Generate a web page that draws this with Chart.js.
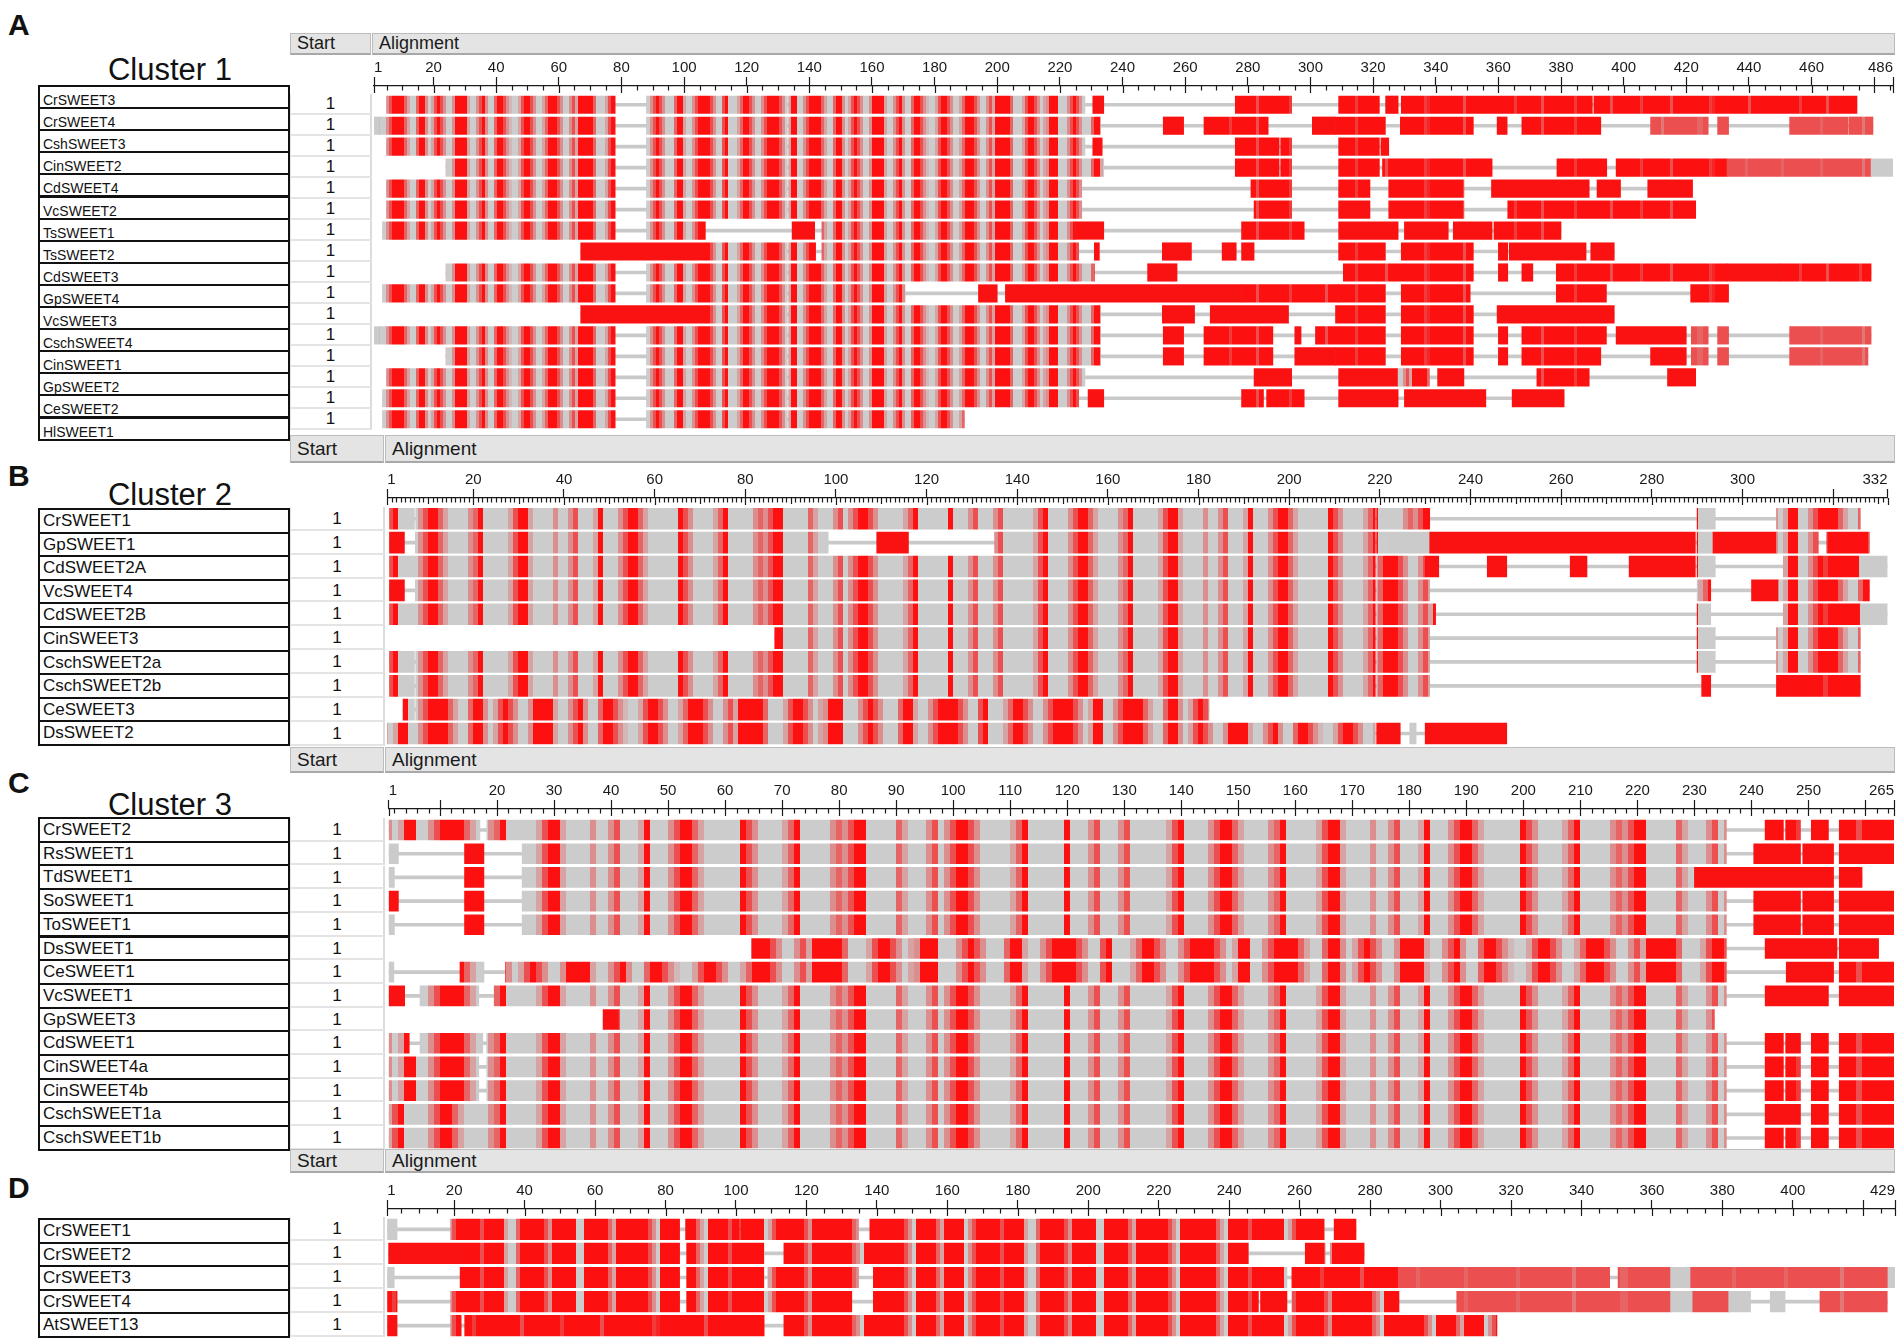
<!DOCTYPE html>
<html>
<head>
<meta charset="utf-8">
<title>SWEET alignment clusters</title>
<script src="https://cdn.jsdelivr.net/npm/chart.js@4.4.1/dist/chart.umd.min.js"></script>
<style>
  body { margin: 0; width: 1904px; height: 1342px; position: relative; overflow: hidden;
         background: #fff; color: #111; font-family: "Liberation Sans", Arial, sans-serif; }
  .abs { position: absolute; box-sizing: border-box; white-space: nowrap; }
  .letter { font-weight: bold; font-size: 30px; line-height: 30px; }
  .title { font-size: 31px; line-height: 31px; width: 252px; text-align: center; }
  .hdr { background: #e4e4e4; border: 1px solid #bcbcbc; border-bottom: 2px solid #a8a8a8; padding-left: 6px; color: #1a1a1a; }
  .name { border: 2px solid #111; padding-left: 3px; overflow: hidden; }
  .start { border-bottom: 2px solid #e4e4e4; border-right: 2px solid #dcdcdc; border-left: 1px solid #e4e4e4; text-align: center; font-size: 17px; }
  canvas { position: absolute; }
</style>
</head>
<body>
<script>
// ---- data: names, start positions, aligned blocks [from, to, kind], ruler ticks ----
// kind: m = mixed red/grey, l = mostly grey, d = red-dominant mix, r = mostly red, R = solid red, p = pale red, g = grey
const namesA = ["CrSWEET3", "CrSWEET4", "CshSWEET3", "CinSWEET2", "CdSWEET4", "VcSWEET2", "TsSWEET1", "TsSWEET2",
                "CdSWEET3", "GpSWEET4", "VcSWEET3", "CschSWEET4", "CinSWEET1", "GpSWEET2", "CeSWEET2", "HlSWEET1"];
const startA = [1, 1, 1, 1, 1, 1, 1, 1, 1, 1, 1, 1, 1, 1, 1, 1];
const blocksA = [
  [[5,78,'m'],[88,133,'m'],[133.4,228,'m'],[230.5,234,'R'],[276,294,'r'],[309,322,'r'],[324,328,'R'],[329,390,'r'],[390.5,474.5,'r']],
  [[1,3,'g'],[3,78,'m'],[88,133,'m'],[133.4,233,'m'],[253,259.5,'R'],[266,286.5,'r'],[300.6,308,'R'],[308,324,'r'],[328.7,352,'r'],[359.6,362.8,'R'],[367.5,392.7,'r'],[408.6,427,'p'],[430,433.5,'p'],[453,471.7,'p'],[472,479.6,'p']],
  [[5,78,'m'],[88,133,'m'],[133.4,228,'m'],[230.5,233.5,'R'],[276,290,'r'],[290.5,294,'r'],[309,322,'r'],[322.5,325,'R']],
  [[24,78,'m'],[88,133,'m'],[133.4,234,'m'],[276,290,'r'],[290.5,294,'r'],[309,322,'r'],[323,358,'r'],[378.7,394.6,'r'],[397.6,433,'r'],[433,479,'p'],[479,486,'g']],
  [[5,78,'m'],[88,133,'m'],[133.4,227,'m'],[281,294,'r'],[309,319,'r'],[325,349,'r'],[357.8,389,'R'],[391.5,399,'R'],[407.7,422,'R']],
  [[5,78,'m'],[88,133,'m'],[133.4,227,'m'],[282,294,'r'],[309,319,'R'],[325,349,'r'],[363,423,'r']],
  [[3.7,78,'m'],[88,106.8,'m'],[134.5,141.7,'R'],[144,225,'m'],[225,234,'R'],[278,298,'r'],[309,328,'R'],[330,344,'R'],[345.6,358,'R'],[358.6,380,'r']],
  [[67,107,'R'],[107,133,'m'],[133.4,142,'m'],[144,226,'m'],[231,232.6,'R'],[252.7,262,'R'],[271.8,276.3,'R'],[278,282,'R'],[309,324,'r'],[329,352,'r'],[360,363,'R'],[363.5,388,'R'],[389.5,397,'R']],
  [[24,78,'m'],[88,133,'m'],[133.4,231,'m'],[248,257.4,'R'],[310.5,352,'r'],[360,363,'R'],[367.5,371,'R'],[378.5,433,'r'],[433,450,'R'],[450,479,'r']],
  [[3.7,78,'m'],[88,133,'m'],[133.4,170.6,'m'],[194,200,'R'],[202.6,278,'R'],[278,309,'r'],[309,324,'r'],[329,351,'r'],[378.5,394.5,'r'],[421.4,433.5,'r']],
  [[67,107,'R'],[107,133,'m'],[133.4,233,'m'],[252.7,263,'R'],[268,293,'R'],[308,324,'r'],[329,352,'r'],[359.6,397,'R']],
  [[1,3,'g'],[3,78,'m'],[88,133,'m'],[133.4,233,'m'],[253,259.5,'R'],[266,288,'r'],[295,297,'R'],[301.6,324,'r'],[329,352,'r'],[360,363,'R'],[367.5,394.5,'r'],[397.6,420,'R'],[421.6,427,'p'],[430,433.5,'p'],[453,479,'p']],
  [[24,78,'m'],[88,133,'m'],[133.4,233,'m'],[253,259.5,'R'],[266,288,'r'],[295,308,'R'],[308,324,'r'],[329,352,'r'],[360,363,'R'],[367.5,392.7,'r'],[408.6,420,'R'],[421.6,427,'p'],[430,433.5,'p'],[453,478,'p']],
  [[5,78,'m'],[88,133,'m'],[133.4,228,'m'],[282,294,'R'],[309,328,'R'],[328,338,'m'],[340.6,349,'R'],[372.3,389,'r'],[414,423,'R']],
  [[3.7,78,'m'],[88,133,'m'],[133.4,226,'m'],[229,234,'R'],[278,285,'r'],[286,298,'r'],[309,328,'R'],[330,356,'R'],[364.4,381,'R']],
  [[3.7,78,'m'],[88,133,'m'],[133.4,189.5,'m']]
];
const ticksA = [1,20,40,60,80,100,120,140,160,180,200,220,240,260,280,300,320,340,360,380,400,420,440,460,480,486];
const labelsA = [1,20,40,60,80,100,120,140,160,180,200,220,240,260,280,300,320,340,360,380,400,420,440,460,486];

const namesB = ["CrSWEET1", "GpSWEET1", "CdSWEET2A", "VcSWEET4", "CdSWEET2B", "CinSWEET3", "CschSWEET2a", "CschSWEET2b", "CeSWEET3", "DsSWEET2"];
const startB = [1, 1, 1, 1, 1, 1, 1, 1, 1, 1];
const blocksB = [
  [[1.5,7,'l'],[7.3,219,'l'],[219.3,231,'l'],[290,294,'l'],[307.5,326,'m']],
  [[1.5,4.8,'R'],[7.2,98.3,'l'],[109,116,'R'],[135,219,'l'],[219.3,222,'l'],[222,231,'g'],[231,289.6,'R'],[290,293.5,'l'],[293.5,307.5,'R'],[307.5,316.7,'m'],[318.6,328,'r']],
  [[1.5,219,'l'],[219.3,230,'m'],[230,233,'R'],[243.7,248,'R'],[262,265.7,'R'],[275,289.6,'R'],[290,294,'l'],[309,316.7,'m'],[316.7,325.8,'r'],[325.8,332,'g']],
  [[1.5,4.8,'R'],[7.2,219,'l'],[219.3,231,'m'],[290,293,'m'],[302,308,'R'],[308,328,'m']],
  [[1.5,219,'l'],[219.3,232.3,'m'],[290,293,'l'],[309,317,'m'],[317,326,'r'],[326,332,'g']],
  [[86.5,219,'l'],[219.3,231,'m'],[290,294,'l'],[307.5,326,'m']],
  [[1.5,7,'l'],[7.3,219,'l'],[219.3,231,'m'],[290,294,'l'],[307.5,326,'m']],
  [[1.5,7,'l'],[7.3,219,'l'],[219.3,231,'m'],[291,293,'R'],[307.5,326,'r']],
  [[4.5,7,'m'],[7.3,182.3,'m']],
  [[1,219,'m'],[219.3,224.5,'R'],[226.6,228,'g'],[230,248,'R']]
];
const ticksB = [1,20,40,60,80,100,120,140,160,180,200,220,240,260,280,300,320,332];
const labelsB = [1,20,40,60,80,100,120,140,160,180,200,220,240,260,280,300,332];

const namesC = ["CrSWEET2", "RsSWEET1", "TdSWEET1", "SoSWEET1", "ToSWEET1", "DsSWEET1", "CeSWEET1", "VcSWEET1",
                "GpSWEET3", "CdSWEET1", "CinSWEET4a", "CinSWEET4b", "CschSWEET1a", "CschSWEET1b"];
const startC = [1, 1, 1, 1, 1, 1, 1, 1, 1, 1, 1, 1, 1, 1];
const blocksC = [
  [[1,17,'m'],[18.2,235.6,'l'],[242.4,245.6,'r'],[246,248.6,'r'],[250.5,253.5,'r'],[255.4,265,'r']],
  [[1,2.7,'g'],[14.3,17.7,'R'],[24.4,235.6,'l'],[240.4,248.6,'R'],[249,254.4,'R'],[255.4,265,'R']],
  [[1,2,'g'],[14.3,17.7,'r'],[24.4,230,'l'],[230,254.4,'R'],[255.4,259.4,'R']],
  [[1,2.7,'R'],[14.3,17.7,'r'],[24.4,235.6,'l'],[240.4,248.6,'R'],[249,254.4,'R'],[255.4,265,'R']],
  [[1,2,'g'],[14.3,17.7,'r'],[24.4,235.6,'l'],[240.4,248.6,'R'],[249,254.4,'R'],[255.4,265,'R']],
  [[64.6,235.6,'m'],[242.4,255,'R'],[255.4,262.3,'R']],
  [[1,1.9,'g'],[13.5,17.7,'m'],[21.5,235.6,'m'],[246.1,254.4,'R'],[255.4,265,'r']],
  [[1,3.8,'R'],[6.5,16.8,'m'],[19.5,235.6,'l'],[242.4,253.5,'R'],[255.4,265,'R']],
  [[38.6,41.4,'R'],[41.4,233.5,'l']],
  [[1,4.6,'m'],[6.5,17.5,'m'],[18.2,235.6,'l'],[242.4,245.6,'r'],[246,248.6,'R'],[250.5,253.5,'r'],[255.4,265,'r']],
  [[1,16.8,'m'],[18.2,235.6,'l'],[242.4,245.6,'r'],[246,248.6,'r'],[250.5,253.5,'r'],[255.4,265,'r']],
  [[1,16.8,'m'],[18.2,235.6,'l'],[242.4,245.6,'r'],[246,248.6,'r'],[250.5,253.5,'r'],[255.4,265,'r']],
  [[1,235.6,'l'],[242.4,248.6,'R'],[250.5,253.5,'r'],[255.4,265,'r']],
  [[1,235.6,'l'],[242.4,245.6,'r'],[246,248.6,'r'],[250.5,253.5,'r'],[255.4,265,'r']]
];
const ticksC = [1,10,20,30,40,50,60,70,80,90,100,110,120,130,140,150,160,170,180,190,200,210,220,230,240,250,260,265];
const labelsC = [1,20,30,40,50,60,70,80,90,100,110,120,130,140,150,160,170,180,190,200,210,220,230,240,250,265];

const namesD = ["CrSWEET1", "CrSWEET2", "CrSWEET3", "CrSWEET4", "AtSWEET13"];
const startD = [1, 1, 1, 1, 1];
const blocksD = [
  [[1,3.8,'g'],[19,84,'d'],[85.7,101,'d'],[101.3,134.8,'d'],[138,267,'d'],[269.8,276,'d']],
  [[1.4,22.8,'R'],[22.8,84,'d'],[86,108,'d'],[113.6,245.5,'d'],[261.6,267.2,'d'],[268.7,278.3,'d']],
  [[1,3,'g'],[21.7,84,'d'],[86,108,'d'],[109,134.8,'d'],[139,256.4,'d'],[257.8,288,'r'],[288,348,'p'],[350.4,365.3,'p'],[365.3,371,'g'],[371,427,'p'],[427,429,'g']],
  [[1,3.8,'r'],[19,84,'d'],[86,132.9,'d'],[139,248.3,'d'],[248.9,256.4,'R'],[257.8,288.2,'d'],[304.6,365.3,'p'],[365.3,371.6,'g'],[371.6,381.8,'p'],[381.8,388,'g'],[393.6,397.8,'g'],[407.7,426.8,'p']],
  [[1,3.8,'R'],[19,22,'d'],[23,108,'r'],[113.6,316,'d']]
];
const ticksD = [1,20,40,60,80,100,120,140,160,180,200,220,240,260,280,300,320,340,360,380,400,420,429];
const labelsD = [1,20,40,60,80,100,120,140,160,180,200,220,240,260,280,300,320,340,360,380,400,429];

// ---- layout (page pixels) ----
const panels = [
  { letter: 'A', title: 'Cluster 1', names: namesA, starts: startA, blocks: blocksA, ticks: ticksA, labels: labelsA, len: 486, step: 5,
    letterTop: 10, titleTop: 54, hdrTop: 33, hdrH: 22, hdrFont: 18, startRight: 371, nameTop: 85, namePitch: 22.1, nameFont: 14, nameShift: 3,
    canvasLeft: 356, canvasTop: 58, axisH: 28, x1: 374, xN: 1893, pitch: 20.98, barH: 17.5, firstBarTop: 96 },
  { letter: 'B', title: 'Cluster 2', names: namesB, starts: startB, blocks: blocksB, ticks: ticksB, labels: labelsB, len: 332, step: 1,
    letterTop: 461, titleTop: 479, hdrTop: 435, hdrH: 28, hdrFont: 19, startRight: 384, nameTop: 508, namePitch: 23.6, nameFont: 17, nameShift: 0,
    canvasLeft: 368, canvasTop: 466, axisH: 32, x1: 387.2, xN: 1887.5, pitch: 23.9, barH: 21, firstBarTop: 508.3 },
  { letter: 'C', title: 'Cluster 3', names: namesC, starts: startC, blocks: blocksC, ticks: ticksC, labels: labelsC, len: 265, step: 2,
    letterTop: 768, titleTop: 789, hdrTop: 747, hdrH: 26, hdrFont: 19, startRight: 384, nameTop: 817, namePitch: 23.7, nameFont: 17, nameShift: 0,
    canvasLeft: 368, canvasTop: 777, axisH: 32, x1: 388.7, xN: 1894, pitch: 23.67, barH: 20, firstBarTop: 820 },
  { letter: 'D', title: '', names: namesD, starts: startD, blocks: blocksD, ticks: ticksD, labels: labelsD, len: 429, step: 5,
    letterTop: 1173, titleTop: 0, hdrTop: 1149, hdrH: 24, hdrFont: 19, startRight: 384, nameTop: 1218, namePitch: 23.6, nameFont: 17, nameShift: 0,
    canvasLeft: 368, canvasTop: 1177, axisH: 32, x1: 387.2, xN: 1895, pitch: 24, barH: 20.5, firstBarTop: 1219 }
];

// stripe textures for the block kinds (0 = grey ... 9 = red), one character per column
const STRIPES = {
  m: "9963029900369999520059930269630039999200369300599631002699630025999630036299999500026996302399900036963000599200369999630069000259963003699",
  l: "0002690000369952000035900000269920000300360002900036995200000096300002590000035369900000520003603699630000025900000090003600036000",
  d: "9999630999995299999036999999699999200599999963999999009999995299999999630999999999520999996999999990269999999639999999999530999999",
  r: "99999979999999969999999999799999999999699999999979999999996999999999999789999999999969999999999",
  p: "6666665666666666666566666666666664666666666665566666666666666566666"
};

function shade(d) {
  const t = d / 9;
  return `rgb(${Math.round(204 + 48 * t)},${Math.round(204 - 188 * t)},${Math.round(204 - 188 * t)})`;
}

function stripeFill(ctx, code, w) {
  const c = document.createElement('canvas');
  c.width = code.length * w;
  c.height = 4;
  const g = c.getContext('2d');
  for (let i = 0; i < code.length; i++) {
    g.fillStyle = shade(+code[i]);
    g.fillRect(i * w, 0, w, 4);
  }
  return ctx.createPattern(c, 'repeat');
}

function addDiv(cls, css, text) {
  const d = document.createElement('div');
  d.className = 'abs ' + cls;
  Object.assign(d.style, css);
  if (text !== undefined) d.textContent = text;
  document.body.appendChild(d);
  return d;
}

// ruler ticks below the axis line
const rulerTicks = {
  id: 'rulerTicks',
  afterDraw(chart, args, opts) {
    const s = chart.scales.x, ctx = chart.ctx, y0 = chart.chartArea.top;
    ctx.save();
    ctx.strokeStyle = '#1a1a1a';
    ctx.lineWidth = 1.2;
    ctx.beginPath();
    for (let v = opts.step; v <= opts.len; v += opts.step) {
      const x = Math.round(s.getPixelForValue(v)) + 0.5;
      const len = (v % 10 === 0 && opts.step < 5) ? 6 : 4.5;
      ctx.moveTo(x, y0);
      ctx.lineTo(x, y0 + len);
    }
    for (const v of opts.majors) {
      const x = Math.round(s.getPixelForValue(v)) + 0.5;
      ctx.moveTo(x, y0);
      ctx.lineTo(x, y0 + 7);
    }
    ctx.stroke();
    ctx.restore();
  }
};

panels.forEach(p => {
  // panel letter, title, header bar
  addDiv('letter', { left: '8px', top: p.letterTop + 'px' }, p.letter);
  if (p.title) addDiv('title', { left: '44px', top: p.titleTop + 'px' }, p.title);
  addDiv('hdr', { left: '290px', top: p.hdrTop + 'px', width: (p.startRight - 290) + 'px', height: p.hdrH + 'px',
                  fontSize: p.hdrFont + 'px', lineHeight: (p.hdrH - 3) + 'px' }, 'Start');
  addDiv('hdr', { left: (p.startRight + 1) + 'px', top: p.hdrTop + 'px', width: (1895 - p.startRight - 1) + 'px', height: p.hdrH + 'px',
                  fontSize: p.hdrFont + 'px', lineHeight: (p.hdrH - 3) + 'px' }, 'Alignment');

  // name boxes and start column
  const gap = p.pitch - p.barH;
  p.names.forEach((n, i) => {
    const h = p.namePitch + 2;
    addDiv('name', { left: '38px', top: (p.nameTop + i * p.namePitch) + 'px', width: '252px', height: h + 'px',
                     fontSize: p.nameFont + 'px', lineHeight: (h - 4) + 'px', paddingTop: p.nameShift + 'px' }, n);
    addDiv('start', { left: '290px', top: (p.firstBarTop - gap / 2 + i * p.pitch) + 'px', width: (p.startRight - 290 + 1) + 'px',
                      height: p.pitch + 'px', lineHeight: p.pitch + 'px' }, String(p.starts[i]));
  });

  // alignment chart
  const canvas = document.createElement('canvas');
  const W = 1904 - p.canvasLeft;
  const yMin = -(p.firstBarTop + p.barH / 2 - (p.canvasTop + p.axisH)) / p.pitch;
  const yMax = p.names.length - 1 + (p.barH / 2 + 2) / p.pitch;
  const H = Math.round(p.axisH + (yMax - yMin) * p.pitch);
  canvas.width = W;
  canvas.height = H;
  canvas.style.left = p.canvasLeft + 'px';
  canvas.style.top = p.canvasTop + 'px';
  canvas.style.width = W + 'px';
  canvas.style.height = H + 'px';
  document.body.appendChild(canvas);
  const ctx = canvas.getContext('2d');

  const colW = Math.max(2, Math.round((p.xN - p.x1) / (p.len - 1)));
  const fills = {
    m: stripeFill(ctx, STRIPES.m, colW),
    l: stripeFill(ctx, STRIPES.l, colW),
    d: stripeFill(ctx, STRIPES.d, colW),
    r: stripeFill(ctx, STRIPES.r, colW),
    p: stripeFill(ctx, STRIPES.p, colW),
    R: 'rgb(250,18,18)',
    g: '#cbcbcb'
  };

  const segs = [];
  p.blocks.forEach((row, i) => row.forEach(b => segs.push({ x: [b[0], b[1]], y: i, k: b[2] })));
  const links = p.blocks.map((row, i) => ({ x: [row[0][0], row[row.length - 1][1]], y: i }));

  new Chart(ctx, {
    type: 'bar',
    data: {
      datasets: [
        { data: segs, backgroundColor: c => fills[c.raw.k], barThickness: p.barH, grouped: false, order: 1 },
        { data: links, backgroundColor: '#c9c9c9', barThickness: 3, grouped: false, order: 2 }
      ]
    },
    options: {
      indexAxis: 'y',
      responsive: false,
      animation: false,
      events: [],
      layout: { padding: { left: p.x1 - p.canvasLeft, right: p.canvasLeft + W - p.xN, top: 0, bottom: 0 } },
      plugins: {
        legend: { display: false },
        tooltip: { enabled: false },
        rulerTicks: { step: p.step, len: p.len, majors: p.ticks }
      },
      scales: {
        x: {
          type: 'linear',
          position: 'top',
          min: 1,
          max: p.len,
          offset: false,
          afterBuildTicks: s => { s.ticks = p.ticks.map(v => ({ value: v })); },
          afterFit: s => { s.height = p.axisH; s.paddingLeft = 0; s.paddingRight = 0; },
          ticks: {
            autoSkip: false,
            maxRotation: 0,
            padding: 0,
            align: 'inner',
            color: '#1a1a1a',
            font: { family: 'Liberation Sans', size: 15 },
            callback: v => p.labels.includes(v) ? String(v) : ''
          },
          grid: { drawOnChartArea: false, tickLength: 9, tickColor: '#1a1a1a', tickWidth: 1.2 },
          border: { display: true, color: '#1a1a1a', width: 1.3 }
        },
        y: { type: 'linear', reverse: true, offset: false, min: yMin, max: yMax, display: false }
      }
    },
    plugins: [rulerTicks]
  });
});
</script>
</body>
</html>
